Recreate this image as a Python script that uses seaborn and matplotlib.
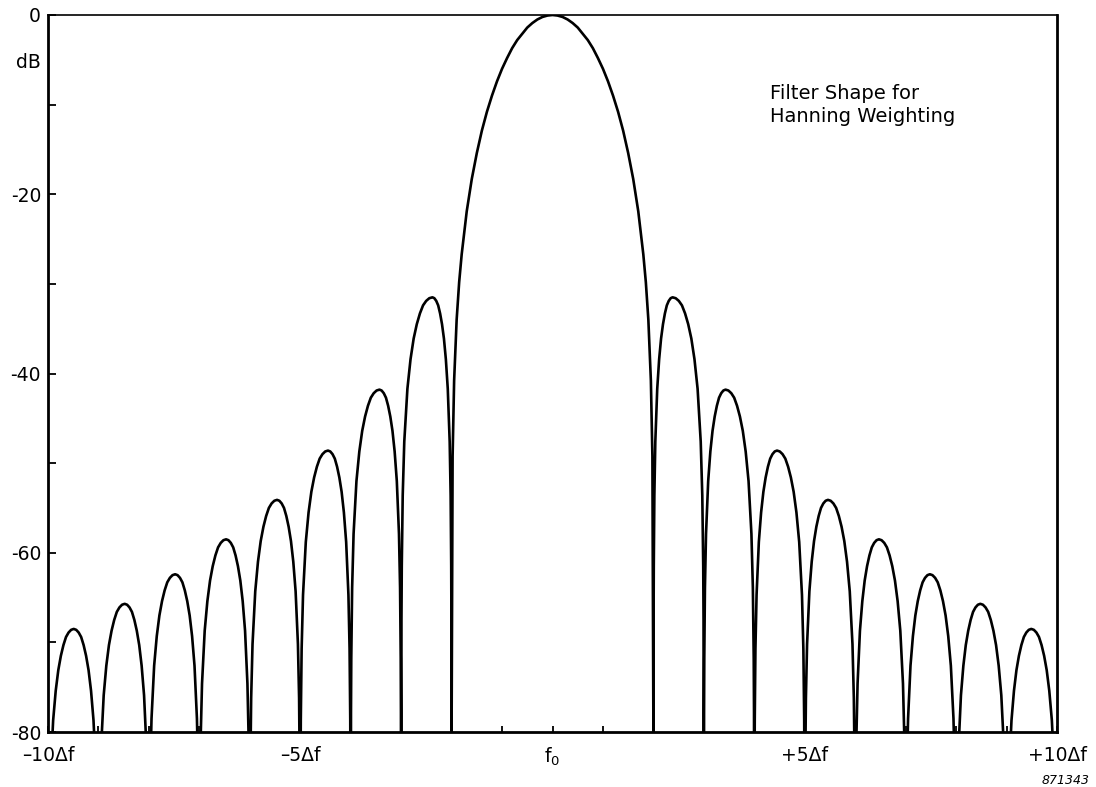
import matplotlib

matplotlib.use("Agg")
import matplotlib.pyplot as plt
import pandas as pd
import seaborn as sns

# Main lobe, right half (mirrored onto the left), offset in bins -> level in dB
main_lobe_x = [0.0, 0.1, 0.2, 0.3, 0.4, 0.5, 0.6, 0.7, 0.8, 0.9, 1.0, 1.1, 1.2, 1.3,
               1.4, 1.5, 1.6, 1.7, 1.8, 1.85, 1.9, 1.95, 1.98, 2.0]
main_lobe_db = [0.0, -0.06, -0.22, -0.5, -0.9, -1.4, -2.1, -2.8, -3.7, -4.8, -6.0, -7.4,
                -9.0, -10.8, -12.9, -15.4, -18.3, -21.9, -26.7, -29.8, -34.0, -40.8, -49.2, -80.0]

# Side lobes sit between nulls at 2..10 bins, same on both sides of f0
sidelobe_nulls = [2, 3, 4, 5, 6, 7, 8, 9, 10]
sidelobe_peak_x = [2.38, 3.43, 4.45, 5.46, 6.47, 7.48, 8.48, 9.49]
sidelobe_peak_db = [-31.5, -41.8, -48.6, -54.1, -58.5, -62.4, -65.7, -68.5]

# Arch of one side lobe: fraction of the way from peak to null -> dB below the peak
lobe_frac = [0.0, 0.1, 0.2, 0.3, 0.4, 0.5, 0.6, 0.7, 0.8, 0.9, 0.95, 0.98, 0.99, 1.0]
lobe_drop_db = [0.0, -0.1, -0.4, -0.9, -1.8, -3.0, -4.6, -6.9, -10.2, -16.1, -22.1, -30.0, -36.0, -80.0]

tick_pos = [-10, -5, 0, 5, 10]
tick_labels = ["\u201310\u0394f", "\u20135\u0394f", r"$\mathregular{f_0}$", "+5\u0394f", "+10\u0394f"]
db_ticks = [0, -20, -40, -60, -80]
db_labels = ["0", "-20", "-40", "-60", "-80"]


def right_half():
    xs = list(main_lobe_x)
    ys = list(main_lobe_db)
    for i, (px, pdb) in enumerate(zip(sidelobe_peak_x, sidelobe_peak_db)):
        left, right = sidelobe_nulls[i], sidelobe_nulls[i + 1]
        for f, d in zip(reversed(lobe_frac), reversed(lobe_drop_db)):
            xs.append(px - f * (px - left))
            ys.append(pdb + d)
        for f, d in zip(lobe_frac[1:], lobe_drop_db[1:]):
            xs.append(px + f * (right - px))
            ys.append(pdb + d)
    return xs, ys


rx, ry = right_half()
curve = pd.DataFrame({
    "offset": [-x for x in reversed(rx)] + rx[1:],
    "level": list(reversed(ry)) + ry[1:],
})

sns.set_style("ticks")
plt.rcParams["font.family"] = ["DejaVu Sans"]
plt.rcParams["mathtext.fontset"] = "dejavusans"
plt.rcParams["text.color"] = "black"

fig = plt.figure(figsize=(10.96, 7.87), dpi=100)
ax = fig.add_axes([48 / 1096, 55 / 787, 1009 / 1096, 717 / 787])

sns.lineplot(data=curve, x="offset", y="level", estimator=None, sort=False,
             color="black", linewidth=1.9, ax=ax)

ax.set_xlim(-10, 10)
ax.set_ylim(-80, 0)
ax.set_xlabel("")
ax.set_ylabel("")

ax.set_xticks(tick_pos)
ax.set_xticklabels(tick_labels)
ax.set_xticks(range(-10, 11), minor=True)
ax.set_yticks(db_ticks)
ax.set_yticklabels(db_labels)
ax.set_yticks(range(-80, 1, 10), minor=True)
ax.tick_params(axis="both", which="both", direction="in", color="black",
               labelcolor="black", width=1.3)
ax.tick_params(axis="y", which="both", length=6, pad=5, labelsize=13.5)
ax.tick_params(axis="x", which="both", length=4, pad=10, labelsize=13.5)

for side in ("left", "bottom", "right"):
    ax.spines[side].set_linewidth(2.0)
    ax.spines[side].set_color("black")
ax.spines["top"].set_linewidth(1.2)
ax.spines["top"].set_color("black")

fig.text(28 / 1096, 1 - 62 / 787, "dB", ha="center", va="center", fontsize=13.5)
ax.text(0.7156, 0.904, "Filter Shape for\nHanning Weighting", transform=ax.transAxes,
        ha="left", va="top", fontsize=14, linespacing=1.3)
fig.text(1090 / 1096, 1 - 781 / 787, "871343", ha="right", va="center",
         fontsize=9, style="italic")

fig.savefig("out.png", dpi=100)
plt.close(fig)
